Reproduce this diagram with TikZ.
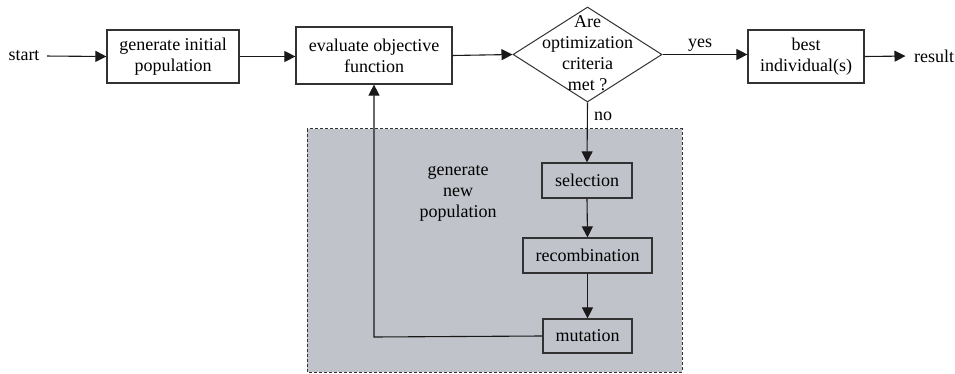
\documentclass[tikz,border=0pt]{standalone}
\usepackage{fontspec}
\setmainfont{Liberation Serif}
\usetikzlibrary{shapes.geometric,arrows.meta}
\definecolor{panel}{RGB}{192,195,202}
\definecolor{edge}{RGB}{50,50,50}
\begin{document}
\begin{tikzpicture}[x=1pt,y=-1pt,
  every node/.style={font=\fontsize{18}{21}\selectfont, text=black},
  box/.style={draw=edge, line width=1.2pt, inner sep=0pt, align=center},
  conn/.style={draw=black!90, line width=1.1pt, -{Triangle[length=11pt,width=11pt]}}]
\useasboundingbox (0,0) rectangle (955,374);
\fill[panel] (307,129) rectangle (682,372);
\draw[edge, line width=1pt, dash pattern=on 3pt off 2pt] (307,129) rectangle (682,372);
\node (start) at (24,56) {start};
\node[box, fill=white, minimum width=132pt, minimum height=53pt] (init) at (173,56.5) {generate initial\\population};
\node[box, fill=white, minimum width=156pt, minimum height=57pt] (eval) at (374,55.5) {evaluate objective\\function};
\node[draw=edge, line width=1pt, diamond, fill=white, minimum width=149pt, minimum height=95pt, inner sep=0pt] (dec) at (587.5,54.5) {};
\node[align=center, inner sep=0pt] (dectext) at (587.5,53) {Are\\optimization\\criteria\\met ?};
\node[box, fill=white, minimum width=116pt, minimum height=53pt] (best) at (806,56.5) {best\\individual(s)};
\node (result) at (934,56) {result};
\node[box, minimum width=90pt, minimum height=35pt] (sel) at (587,180.5) {selection};
\node[box, minimum width=129pt, minimum height=35pt] (rec) at (587.5,255.5) {recombination};
\node[box, minimum width=89pt, minimum height=34pt] (mut) at (587.5,336) {mutation};
\node[align=center, inner sep=0pt] (gen) at (458,193) {generate\\new\\population};
\node[inner sep=0pt] (yes) at (700,45) {yes};
\node[inner sep=0pt] (no) at (603,116) {no};
\coordinate (corner) at (374,337);
\draw[conn, shorten <=4pt] (start.east) -- (init.west);
\draw[conn] (init.east) -- (init.east -| eval.west);
\draw[conn] (eval.east) -- (dec.west);
\draw[conn] (dec.east) -- (best.west |- dec.east);
\draw[conn, shorten >=5pt] (best.east) -- (result.west);
\draw[conn] (dec.south) -- (sel.north);
\draw[conn] (sel.south) -- (rec.north);
\draw[conn] (rec.south) -- (mut.north);
\draw[conn] (mut.west) -- (corner) -- (eval.south);
\end{tikzpicture}
\end{document}
